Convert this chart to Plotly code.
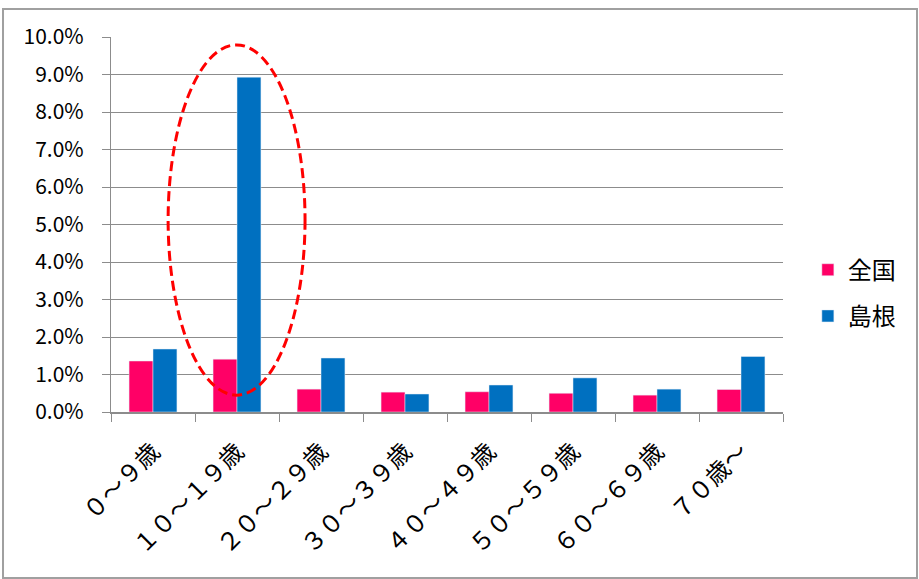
import plotly.graph_objects as go

categories = ["０～９歳", "１０～１９歳", "２０～２９歳", "３０～３９歳",
              "４０～４９歳", "５０～５９歳", "６０～６９歳", "７０歳～"]
zenkoku = [1.36, 1.41, 0.61, 0.53, 0.54, 0.50, 0.45, 0.60]
shimane = [1.68, 8.93, 1.44, 0.48, 0.72, 0.91, 0.61, 1.48]
y_ticks = [0, 1, 2, 3, 4, 5, 6, 7, 8, 9, 10]
y_tick_labels = ["0.0%", "1.0%", "2.0%", "3.0%", "4.0%", "5.0%",
                 "6.0%", "7.0%", "8.0%", "9.0%", "10.0%"]

FONT = "Noto Sans CJK JP"

fig = go.Figure()
fig.add_trace(go.Bar(name="全国", x=categories, y=zenkoku, marker_color="#FF0066",
                     legendgroup="a"))
fig.add_trace(go.Bar(name="島根", x=categories, y=shimane, marker_color="#0070C0",
                     legendgroup="b"))

fig.update_layout(
    width=919, height=579,
    margin=dict(l=111, r=136, t=37, b=167, autoexpand=False),
    paper_bgcolor="white", plot_bgcolor="white",
    barmode="group", bargap=0.43, bargroupgap=0,
    font=dict(family=FONT, size=20, color="#000"),
    legend=dict(x=1.037, y=0.317, xanchor="left", yanchor="middle",
                font=dict(size=24), itemwidth=30, tracegroupgap=12,
                traceorder="grouped", bgcolor="rgba(0,0,0,0)"),
    showlegend=True,
)
fig.update_yaxes(range=[0, 10], tickvals=y_ticks, ticktext=y_tick_labels,
                 showgrid=True, gridcolor="#8c8c8c", gridwidth=1.3,
                 showline=True, linecolor="#8c8c8c", linewidth=1.3,
                 ticks="outside", ticklen=8, tickcolor="#8c8c8c",
                 ticklabelstandoff=14,
                 zeroline=False, tickfont=dict(size=21))
fig.update_xaxes(tickangle=-45, showline=True, linecolor="#8c8c8c", linewidth=2,
                 ticks="outside", ticklen=8, tickcolor="#8c8c8c", tickson="boundaries",
                 ticklabelstandoff=14,
                 tickfont=dict(size=24))

# red dashed ellipse around 10-19
fig.add_shape(type="circle", xref="x", yref="y", x0=0.18, x1=1.81, y0=0.45, y1=9.79,
              line=dict(color="#FF0000", width=3, dash="10px,5px"))
# outer chart border
fig.add_shape(type="rect", xref="paper", yref="paper", x0=-0.1607, x1=1.1994,
              y0=-0.4427, y1=1.0747, line=dict(color="#a0a0a0", width=2), layer="below")

fig.write_html("out.html", config={"displayModeBar": False},
               post_script="document.body.style.margin='0px';")
